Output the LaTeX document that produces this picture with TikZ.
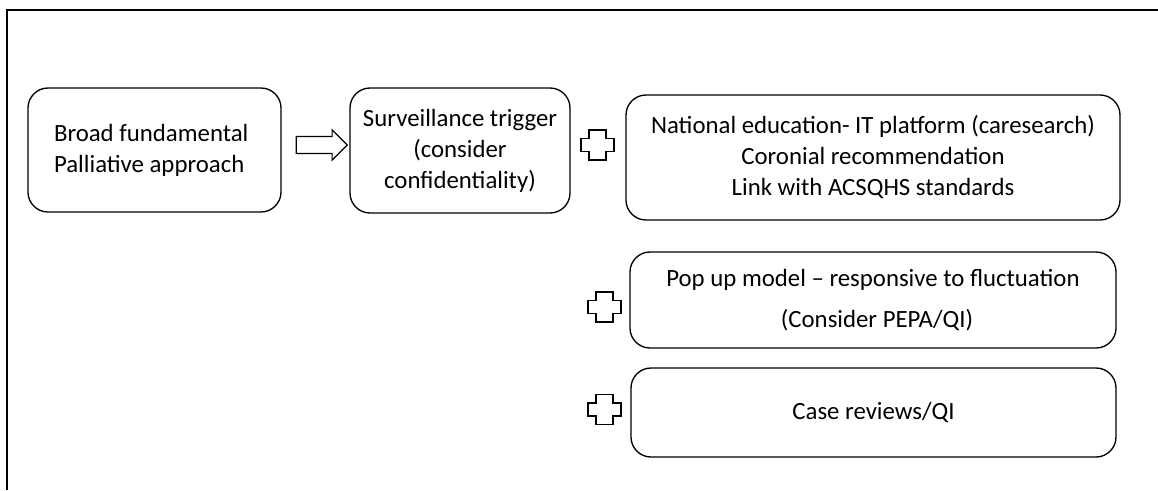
\documentclass[tikz,border=0pt]{standalone}
\usepackage{fontspec}
\setmainfont{Carlito}
\usetikzlibrary{shapes.arrows}

\tikzset{
  rbox/.style={draw, line width=1pt, rounded corners=15pt, inner sep=0pt,
    font=\fontsize{18.6}{23.25}\selectfont},
  plusline/.style={draw, line width=0.9pt},
}

\begin{document}
\begin{tikzpicture}[x=0.75pt, y=-0.75pt]
    \useasboundingbox (0,0) rectangle (1158,490);
    % frame
    \draw [line width=1.1pt] (7,490) -- (7,10) -- (1158,10);
    % boxes
    \node [rbox, minimum width=189.75pt, minimum height=93pt, align=left] (broad) at (154.5,150) {Broad fundamental\\Palliative approach\hspace*{8pt}};
    \node [rbox, minimum width=165pt, minimum height=93.75pt, align=center] (surv) at (460,150.5) {Surveillance trigger\\(consider\\confidentiality)};
    \node [rbox, minimum width=370.5pt, minimum height=93.75pt, align=center] (natl) at (873,157.5) {National education- IT platform (caresearch)\\Coronial recommendation\\Link with ACSQHS standards};
    \node [rbox, minimum width=364.5pt, minimum height=72pt, align=center] (popup) at (873,300) {Pop up model -- responsive to fluctuation\\[8pt]\hspace*{6pt}(Consider PEPA/QI)};
    \node [rbox, minimum width=363.75pt, minimum height=66.75pt, align=center] (cases) at (873.5,412.5) {\raisebox{-7pt}{Case reviews/QI}};
    % arrow
    \node [single arrow, draw, line width=0.9pt, inner sep=5.9pt, minimum height=38.25pt, minimum width=21.75pt, single arrow head extend=5pt] (arr) at (317.5,145) {};
    % plus
    \foreach \px/\py in {597.5/145, 604.5/307, 604.5/409.5}
      \draw [plusline] ({\px-8.5},{\py-15}) -- ++(17,0) -- ++(0,8.5) -- ++(8,0) -- ++(0,13) -- ++(-8,0) -- ++(0,8.5) -- ++(-17,0) -- ++(0,-8.5) -- ++(-8,0) -- ++(0,-13) -- ++(8,0) -- cycle;
\end{tikzpicture}
\end{document}
